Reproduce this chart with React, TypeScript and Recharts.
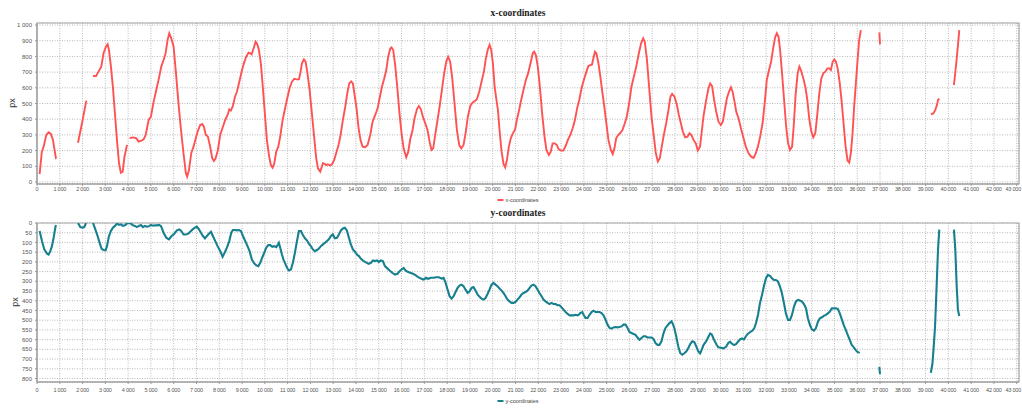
import React from 'react';
import { LineChart, Line, XAxis, YAxis, CartesianGrid, ReferenceArea } from 'recharts';

// Pointer position over time (ms), recorded as separate runs; gaps between runs are breaks in tracking.
const xRuns: [number, number][][] = [
  [[115,50],[210,190],[290,225],[410,300],[510,316],[610,306],[700,268],[760,214],[830,151],[850,148]],
  [[1800,250],[1975,374],[2165,518]],
  [[2460,675],[2590,675],[2700,703],[2820,735],[2920,820],[3025,862],[3100,877],[3160,840],[3245,735],[3330,607],[3420,437],[3510,267],[3600,119],[3680,59],[3760,66],[3840,161],[3950,236]],
  [[4065,280],[4240,284],[4360,278],[4460,257],[4580,263],[4680,272],[4770,299],[4900,395],[5000,416],[5120,512],[5235,586],[5350,660],[5455,735],[5555,777],[5645,820],[5730,904],[5805,947],[5895,915],[5995,862],[6100,692],[6210,501],[6320,331],[6430,183],[6535,55],[6590,34],[6670,76],[6770,183],[6870,225],[6990,289],[7075,331],[7165,363],[7250,369],[7325,352],[7410,299],[7500,289],[7600,225],[7690,151],[7765,134],[7840,151],[7940,204],[8040,299],[8160,352],[8260,395],[8365,427],[8440,463],[8510,455],[8600,484],[8690,543],[8775,575],[8880,639],[8980,703],[9080,756],[9185,798],[9285,824],[9360,820],[9420,813],[9505,851],[9595,894],[9665,879],[9740,841],[9825,756],[9910,607],[10000,437],[10090,267],[10190,161],[10265,108],[10340,91],[10410,115],[10500,193],[10590,225],[10675,289],[10780,395],[10880,463],[10985,533],[11085,597],[11190,639],[11290,658],[11395,654],[11495,654],[11555,692],[11630,756],[11715,781],[11790,766],[11860,703],[11965,586],[12065,437],[12170,278],[12255,151],[12330,87],[12430,66],[12505,98],[12550,119],[12635,115],[12695,108],[12765,113],[12870,104],[12955,115],[13045,140],[13130,183],[13235,236],[13325,299],[13425,395],[13530,480],[13630,575],[13705,628],[13790,641],[13865,628],[13940,554],[14025,469],[14115,342],[14200,267],[14290,225],[14400,221],[14510,236],[14625,299],[14730,384],[14845,427],[14950,469],[15035,533],[15140,607],[15240,660],[15330,713],[15415,798],[15505,851],[15560,858],[15635,841],[15720,745],[15810,607],[15910,437],[16000,310],[16090,214],[16205,157],[16295,193],[16380,272],[16485,331],[16570,406],[16675,463],[16760,484],[16850,463],[16935,416],[17040,374],[17140,331],[17230,257],[17315,204],[17390,214],[17475,299],[17580,395],[17670,480],[17770,586],[17870,692],[17960,766],[18045,798],[18135,766],[18225,660],[18325,501],[18430,331],[18530,236],[18620,214],[18720,236],[18810,310],[18910,416],[19015,484],[19115,505],[19220,516],[19305,527],[19410,575],[19510,639],[19615,703],[19700,788],[19790,845],[19865,873],[19935,841],[20010,756],[20085,607],[20155,533],[20230,459],[20300,331],[20390,193],[20475,115],[20550,93],[20625,140],[20710,225],[20795,278],[20885,310],[20985,335],[21060,395],[21160,459],[21250,522],[21350,586],[21455,650],[21555,692],[21660,756],[21760,820],[21820,830],[21895,809],[21980,735],[22070,607],[22170,437],[22275,289],[22360,204],[22465,172],[22550,193],[22630,246],[22720,246],[22810,236],[22900,208],[23000,200],[23100,200],[23200,229],[23300,268],[23405,299],[23510,342],[23610,395],[23715,475],[23800,522],[23900,597],[24000,650],[24115,703],[24200,739],[24290,745],[24360,749],[24420,788],[24490,830],[24550,820],[24630,766],[24715,682],[24810,575],[24890,490],[24980,384],[25080,268],[25185,204],[25270,178],[25345,214],[25420,278],[25505,299],[25590,310],[25695,331],[25800,374],[25885,416],[25990,501],[26090,607],[26195,671],[26300,735],[26415,820],[26515,883],[26605,915],[26675,894],[26765,788],[26865,607],[26970,416],[27075,289],[27160,183],[27250,130],[27335,151],[27420,225],[27525,310],[27615,374],[27715,459],[27800,543],[27875,561],[27980,543],[28085,490],[28170,427],[28260,374],[28345,321],[28450,285],[28550,289],[28640,310],[28725,299],[28815,268],[28915,246],[29000,200],[29100,225],[29250,416],[29370,522],[29470,597],[29545,628],[29630,611],[29720,522],[29810,448],[29910,384],[30015,363],[30100,384],[30190,459],[30280,533],[30370,575],[30455,603],[30530,575],[30615,512],[30690,448],[30790,406],[30895,342],[31010,278],[31110,225],[31230,183],[31345,161],[31450,153],[31550,183],[31640,225],[31740,289],[31845,374],[31945,512],[32030,650],[32130,713],[32220,766],[32310,851],[32395,921],[32470,947],[32545,926],[32615,841],[32700,692],[32790,522],[32880,352],[32965,246],[33050,204],[33140,225],[33210,352],[33300,565],[33385,692],[33460,735],[33530,713],[33635,660],[33735,597],[33810,522],[33900,395],[33985,321],[34070,285],[34160,310],[34245,427],[34335,565],[34425,660],[34510,692],[34600,703],[34685,724],[34775,724],[34845,713],[34920,766],[34990,781],[35065,766],[35140,724],[35225,639],[35310,522],[35400,374],[35490,225],[35575,136],[35650,123],[35720,183],[35795,310],[35865,480],[35940,628],[36015,777],[36085,904],[36160,968]],
  [[36970,953],[37000,877]],
  [[39235,431],[39340,437],[39425,459],[39500,490],[39545,522],[39600,531]],
  [[40245,618],[40360,777],[40480,968]],
];

const yRuns: [number, number][][] = [
  [[115,41],[218,93],[320,136],[440,158],[510,162],[585,145],[655,119],[730,76],[790,33],[830,10]],
  [[1800,0],[1900,21],[1990,24],[2075,21],[2150,0]],
  [[2460,0],[2560,33],[2660,67],[2750,102],[2835,133],[2925,139],[3010,141],[3070,119],[3160,67],[3245,41],[3330,24],[3420,15],[3510,3],[3600,10],[3680,7],[3770,15],[3860,12],[3950,2],[4030,0],[4120,3],[4210,12],[4300,15],[4385,21],[4475,15],[4560,10],[4650,21],[4740,15],[4825,19],[4910,17],[5000,10],[5090,14],[5175,12],[5265,12],[5350,10],[5440,15],[5555,50],[5675,76],[5790,84],[5910,67],[6025,55],[6140,38],[6245,33],[6330,41],[6435,59],[6535,59],[6640,55],[6725,45],[6830,33],[6930,24],[7015,19],[7110,33],[7195,50],[7285,67],[7370,79],[7460,67],[7545,55],[7635,45],[7720,67],[7825,93],[7925,119],[8045,145],[8145,174],[8235,153],[8335,127],[8440,93],[8525,50],[8600,36],[8690,36],[8775,38],[8865,36],[8950,41],[9040,67],[9140,93],[9240,119],[9330,145],[9430,188],[9535,208],[9625,218],[9710,222],[9800,205],[9890,176],[9975,153],[10060,127],[10150,114],[10240,114],[10325,122],[10410,119],[10500,124],[10560,114],[10615,102],[10675,127],[10750,162],[10820,188],[10910,213],[10995,234],[11055,244],[11145,239],[11230,205],[11320,153],[11410,93],[11495,41],[11585,41],[11670,62],[11760,79],[11845,89],[11935,107],[12020,119],[12110,136],[12195,145],[12285,139],[12375,131],[12460,119],[12550,110],[12635,102],[12725,93],[12810,84],[12900,67],[12985,59],[13075,79],[13165,76],[13250,59],[13340,38],[13425,28],[13515,24],[13600,38],[13690,76],[13775,110],[13865,136],[13955,148],[14040,162],[14130,170],[14215,184],[14305,193],[14395,200],[14480,205],[14550,210],[14655,205],[14740,193],[14830,196],[14920,193],[15005,200],[15095,193],[15180,196],[15270,222],[15355,231],[15475,244],[15590,256],[15710,265],[15825,261],[15915,248],[16000,239],[16090,231],[16175,244],[16265,251],[16380,256],[16500,261],[16615,268],[16730,279],[16850,286],[16965,291],[17070,282],[17170,287],[17290,282],[17405,282],[17525,279],[17640,279],[17760,286],[17845,282],[17935,308],[18020,343],[18110,377],[18195,389],[18285,377],[18370,355],[18460,334],[18545,322],[18635,317],[18720,325],[18810,343],[18900,360],[18985,351],[19075,334],[19160,330],[19250,348],[19335,368],[19425,380],[19510,389],[19600,394],[19685,386],[19775,365],[19860,343],[19950,317],[20035,308],[20125,317],[20210,325],[20300,337],[20390,348],[20475,360],[20565,377],[20650,394],[20740,403],[20825,411],[20915,411],[21005,406],[21090,394],[21180,382],[21265,368],[21355,360],[21440,355],[21530,348],[21620,334],[21705,322],[21795,317],[21880,325],[21970,343],[22055,360],[22145,377],[22230,394],[22320,403],[22410,411],[22495,417],[22585,411],[22670,417],[22760,417],[22850,423],[22935,423],[23025,434],[23110,446],[23200,458],[23290,468],[23375,475],[23460,475],[23550,475],[23640,472],[23725,475],[23780,472],[23840,463],[23930,458],[23990,472],[24075,489],[24165,489],[24250,472],[24340,458],[24425,451],[24515,458],[24600,458],[24690,458],[24775,463],[24865,475],[24950,497],[25040,523],[25130,540],[25215,543],[25305,537],[25390,535],[25480,537],[25565,535],[25655,532],[25740,523],[25830,523],[25920,540],[26005,561],[26095,566],[26180,571],[26270,575],[26355,589],[26445,601],[26530,592],[26620,583],[26705,583],[26795,589],[26880,589],[26970,589],[27060,596],[27145,618],[27235,627],[27320,627],[27410,609],[27500,566],[27585,540],[27675,527],[27760,515],[27850,506],[27910,520],[27970,540],[28055,583],[28145,635],[28235,670],[28320,678],[28410,670],[28495,661],[28585,644],[28670,623],[28760,609],[28850,613],[28935,635],[29025,661],[29105,671],[29180,650],[29250,628],[29325,616],[29400,602],[29470,585],[29545,568],[29615,573],[29690,594],[29760,611],[29835,628],[29905,640],[30010,642],[30125,645],[30245,637],[30345,616],[30420,611],[30490,620],[30590,628],[30680,623],[30765,611],[30855,599],[30940,594],[31030,599],[31100,585],[31190,571],[31290,562],[31395,554],[31480,542],[31555,516],[31645,473],[31730,413],[31820,370],[31905,324],[31995,284],[32080,267],[32170,272],[32255,284],[32345,293],[32430,293],[32520,301],[32610,327],[32695,361],[32785,413],[32870,465],[32960,499],[33050,499],[33135,473],[33225,430],[33310,404],[33400,396],[33485,399],[33575,404],[33660,417],[33750,439],[33835,490],[33925,525],[34010,547],[34100,554],[34185,542],[34275,508],[34360,490],[34450,485],[34535,478],[34625,473],[34710,465],[34800,456],[34885,439],[34975,439],[35060,439],[35150,442],[35235,465],[35325,496],[35410,525],[35500,551],[35585,577],[35675,602],[35760,628],[35850,640],[35935,654],[36010,663],[36110,668]],
  [[36970,740],[37000,778]],
  [[39230,771],[39300,723],[39340,663],[39415,534],[39490,310],[39545,138],[39600,34]],
  [[40245,34],[40305,138],[40360,310],[40420,448],[40480,478]],
];

const timeTicks: number[] = Array.from({ length: 44 }, (_, i) => i * 1000);
const xPxTicks: number[] = [0, 100, 200, 300, 400, 500, 600, 700, 800, 900, 1000];
const yPxTicks: number[] = [0, 50, 100, 150, 200, 250, 300, 350, 400, 450, 500, 550, 600, 650, 700, 750, 800];

type Row = { t: number; v: number | null };

// Join the runs into one table, with a null row between runs so the line breaks there.
function toRows(runs: [number, number][][]): Row[] {
  const rows: Row[] = [];
  runs.forEach((run, i) => {
    if (i > 0) {
      const prev = runs[i - 1][runs[i - 1].length - 1][0];
      rows.push({ t: (prev + run[0][0]) / 2, v: null });
    }
    run.forEach(([t, v]) => rows.push({ t, v }));
  });
  return rows;
}

const fmt = (n: number) => String(n).replace(/\B(?=(\d{3})+(?!\d))/g, ' ');

const FONT = 'Liberation Sans, Arial, sans-serif';
const tickStyle = { fontSize: 6, fill: '#555', fontFamily: FONT };
const W = 1022;
const H = 204;

// Time tick: centred under its grid line, but kept inside the right edge of the page.
function TimeTick(props: any) {
  const { x, y, payload } = props;
  const label = fmt(payload.value);
  const approx = label.length * 2.6;
  const right = W - 1;
  const anchorEnd = x + approx / 2 > right;
  return (
    <text x={anchorEnd ? right : x} y={y} dy="0.71em" textAnchor={anchorEnd ? 'end' : 'middle'}
      fontSize={5.5} letterSpacing={-0.2} fill="#555" fontFamily={FONT}>{label}</text>
  );
}

const titleStyle: React.CSSProperties = {
  position: 'absolute', left: 518, transform: 'translateX(-50%)', fontFamily: 'Liberation Serif, Times New Roman, serif',
  fontWeight: 'bold', fontSize: 9.5, color: '#222', whiteSpace: 'nowrap', lineHeight: '10px',
};

function Legend({ top, color, text }: { top: number; color: string; text: string }) {
  return (
    <div style={{ position: 'absolute', left: 518, top, transform: 'translate(-50%,-50%)', display: 'flex', alignItems: 'center', whiteSpace: 'nowrap' }}>
      <div style={{ width: 6, height: 2, background: color, marginRight: 2 }} />
      <span style={{ fontSize: 5.5, color: '#444', fontFamily: FONT, lineHeight: '6px' }}>{text}</span>
    </div>
  );
}

function AxisName({ left, top }: { left: number; top: number }) {
  return (
    <div style={{ position: 'absolute', left, top, transform: 'translate(-50%,-50%) rotate(-90deg)', fontSize: 9, color: '#333', fontFamily: FONT, lineHeight: '9px' }}>px</div>
  );
}

export default function App() {
  const xRows = toRows(xRuns);
  const yRows = toRows(yRuns);
  return (
    <div style={{ position: 'absolute', left: 0, top: 0, width: W, height: 408, background: '#fff' }}>
      <div style={{ position: 'absolute', left: 0, top: 0 }}>
        <LineChart width={W} height={H} data={xRows} margin={{ top: 23, right: 3, bottom: 0, left: 0 }}>
          <CartesianGrid stroke="#b8b8b8" strokeDasharray="1 1.5" />
          <ReferenceArea x1={0} x2={43100} y1={-13} y2={1013} fill="none" stroke="#a8a8a8" strokeWidth={1.2} ifOverflow="visible" />
          <XAxis dataKey="t" type="number" domain={[0, 43100]} ticks={timeTicks} interval={0}
            tick={<TimeTick />} tickSize={2} tickMargin={1} height={20} stroke="#999" allowDataOverflow />
          <YAxis type="number" domain={[-13, 1013]} ticks={xPxTicks} interval={0} tickFormatter={fmt}
            tick={tickStyle} tickSize={2} tickMargin={3} width={37} stroke="#999" allowDataOverflow />
          <Line dataKey="v" type="linear" stroke="#ff5252" strokeWidth={1.9} dot={false} isAnimationActive={false} connectNulls={false} />
        </LineChart>
      </div>
      <div style={{ position: 'absolute', left: 0, top: H }}>
        <LineChart width={W} height={H} data={yRows} margin={{ top: 19, right: 3, bottom: 0, left: 0 }}>
          <CartesianGrid stroke="#b8b8b8" strokeDasharray="1 1.5" />
          <ReferenceArea x1={0} x2={43100} y1={0} y2={818} fill="none" stroke="#a8a8a8" strokeWidth={1.2} ifOverflow="visible" />
          <XAxis dataKey="t" type="number" domain={[0, 43100]} ticks={timeTicks} interval={0}
            tick={<TimeTick />} tickSize={2} tickMargin={4} height={26} stroke="#999" allowDataOverflow />
          <YAxis type="number" domain={[0, 818]} reversed ticks={yPxTicks} interval={0}
            tick={tickStyle} tickSize={2} tickMargin={3} width={37} stroke="#999" allowDataOverflow />
          <Line dataKey="v" type="linear" stroke="#17808f" strokeWidth={2.1} dot={false} isAnimationActive={false} connectNulls={false} />
        </LineChart>
      </div>
      <div style={{ ...titleStyle, top: 8 }}>x-coordinates</div>
      <div style={{ ...titleStyle, top: 208 }}>y-coordinates</div>
      <Legend top={200} color="#ff5252" text="x-coordinates" />
      <Legend top={401} color="#17808f" text="y-coordinates" />
      <AxisName left={12} top={103} />
      <AxisName left={15} top={302} />
    </div>
  );
}
